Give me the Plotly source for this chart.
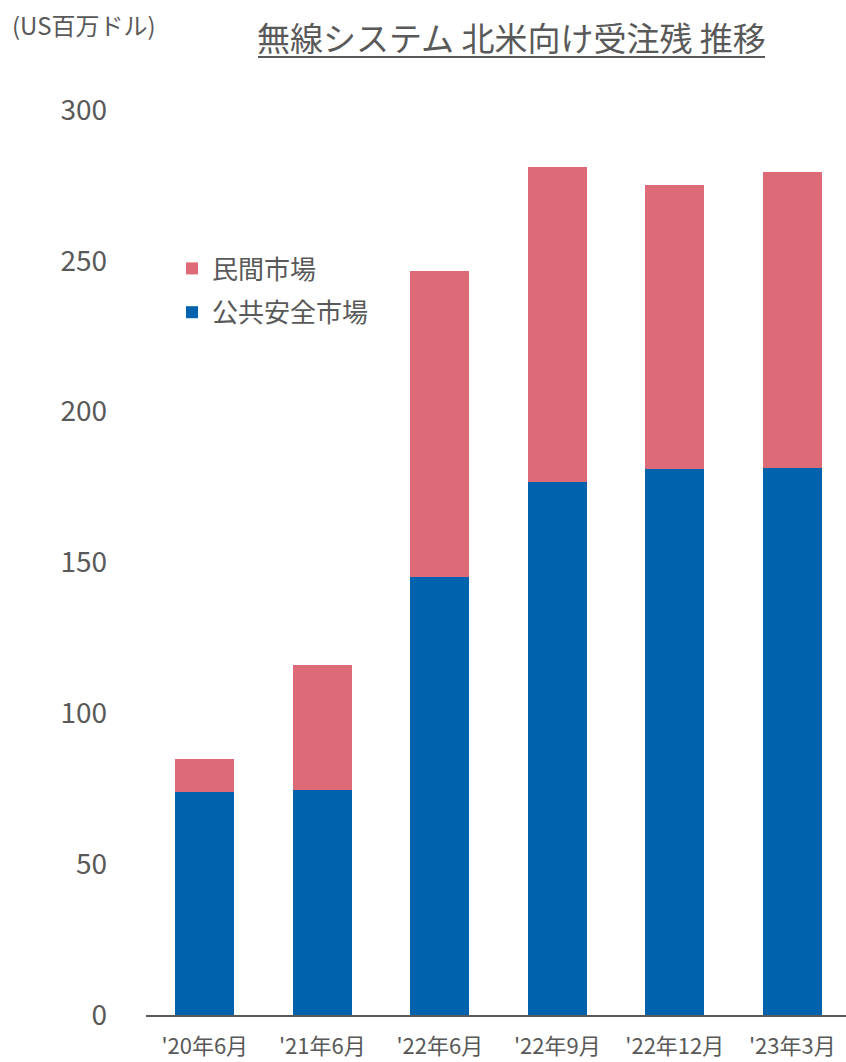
import plotly.graph_objects as go

# 受注残（US百万ドル）
periods = ["'20年6月", "'21年6月", "'22年6月", "'22年9月", "'22年12月", "'23年3月"]
public_safety = [73.9, 74.6, 145.2, 176.7, 181.0, 181.4]
private_market = [11.1, 41.3, 101.4, 104.3, 94.1, 98.0]

y_ticks = [0, 50, 100, 150, 200, 250, 300]

FONT = "Noto Sans CJK JP"
GRAY = "#595959"
BLUE = "#0062AC"
RED = "#DD6B77"

fig = go.Figure()
fig.add_trace(go.Bar(
    x=periods, y=public_safety, name="公共安全市場",
    marker=dict(color=BLUE, line=dict(width=0)),
    legendgroup="a", legendrank=2,
))
fig.add_trace(go.Bar(
    x=periods, y=private_market, name="民間市場",
    marker=dict(color=RED, line=dict(width=0)),
    legendgroup="b", legendrank=1,
))

W, H = 846, 1062
L, R, T, B = 146, 0, 110, 47
PW, PH = W - L - R, H - T - B


def px_x(x):
    return (x - L) / PW


def px_y(y):
    return (H - B - y) / PH


fig.update_layout(
    width=W, height=H,
    margin=dict(l=L, r=R, t=T, b=B, pad=0, autoexpand=False),
    barmode="stack",
    bargap=0.5,
    plot_bgcolor="white",
    paper_bgcolor="white",
    font=dict(family=FONT, color=GRAY),
    showlegend=True,
    legend=dict(
        x=px_x(172), y=px_y(245), xanchor="left", yanchor="top",
        traceorder="grouped",
        tracegroupgap=7,
        font=dict(size=26, color=GRAY, family=FONT),
        bgcolor="rgba(0,0,0,0)",
        itemwidth=30,
    ),
    xaxis=dict(
        range=[-0.5, 5.457],
        automargin=False,
        showline=True, linecolor=GRAY, linewidth=2,
        showgrid=False, zeroline=False,
        ticks="", tickfont=dict(size=22, color=GRAY, family=FONT),
        ticklabelstandoff=11,
    ),
    yaxis=dict(
        range=[0, 300],
        automargin=False,
        tickvals=y_ticks,
        showline=False, showgrid=False, zeroline=False,
        ticks="", tickfont=dict(size=28, color=GRAY, family=FONT),
        ticklabelstandoff=38,
    ),
)

fig.add_annotation(
    text="無線システム 北米向け受注残 推移",
    xref="paper", yref="paper",
    x=px_x(511), y=px_y(37),
    xanchor="center", yanchor="middle",
    showarrow=False,
    font=dict(size=33, color=GRAY, family=FONT),
)
# 題名の下線
fig.add_shape(
    type="line", xref="paper", yref="paper",
    x0=px_x(258), x1=px_x(765),
    y0=px_y(57), y1=px_y(57),
    line=dict(color=GRAY, width=2),
)
fig.add_annotation(
    text="(US百万ドル)",
    xref="paper", yref="paper",
    x=px_x(10), y=px_y(25),
    xanchor="left", yanchor="middle",
    showarrow=False,
    font=dict(size=24, color=GRAY, family=FONT),
)

fig.write_html("out.html")
